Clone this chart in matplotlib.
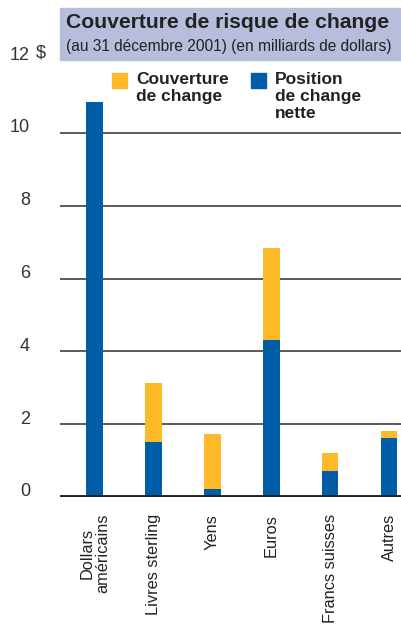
import matplotlib
matplotlib.use("Agg")
import matplotlib.pyplot as plt
from matplotlib.patches import Rectangle
from matplotlib.transforms import ScaledTranslation

categories = ["Dollars\naméricains", "Livres sterling", "Yens", "Euros",
              "Francs suisses", "Autres"]
position_nette = [10.85, 1.51, 0.22, 4.31, 0.71, 1.62]
couverture = [0.0, 1.62, 1.51, 2.53, 0.50, 0.19]
yticks = [0, 2, 4, 6, 8, 10, 12]

YELLOW = "#fdb927"
BLUE = "#005ea8"
GREY = "#333333"

plt.rcParams["font.family"] = ["Liberation Sans", "DejaVu Sans"]

fig = plt.figure(figsize=(4.02, 6.27), dpi=100)
ax = fig.add_axes([60 / 402, 1 - 497 / 627, 342 / 402, 437 / 627])

x = list(range(len(categories)))
ax.bar(x, position_nette, width=0.28, color=BLUE, zorder=3)
ax.bar(x, couverture, width=0.28, bottom=position_nette, color=YELLOW, zorder=3)

ax.set_xlim(-0.59, 5.22)
ax.set_ylim(0, 12)
for s in ax.spines.values():
    s.set_visible(False)
ax.set_yticks(yticks)
ax.set_yticklabels([str(v) for v in yticks], fontsize=13, color=GREY)
ax.tick_params(axis="y", length=0, pad=21.6)
for lab in ax.get_yticklabels():
    lab.set_horizontalalignment("right")
    lab.set_transform(lab.get_transform() + ScaledTranslation(0.0, 0.07, fig.dpi_scale_trans))
ax.text(-0.59 - 24 / 59, 12, "$", fontsize=13, color=GREY, ha="left", va="center",
        transform=ax.transData + ScaledTranslation(0.0, 0.07, fig.dpi_scale_trans))
for v in yticks[1:]:
    ax.axhline(v, color="#4d4d4d", lw=1.3, zorder=1)
ax.axhline(0, color="#222222", lw=2.8, zorder=4)

ax.set_xticks(x)
ax.set_xticklabels(categories, rotation=90, fontsize=11.8, color="#222222",
                   linespacing=1.1, va="top", ha="center")
ax.tick_params(axis="x", length=0, pad=12)

# title box
fig.patches.append(Rectangle((60 / 402, 1 - 60 / 627), 342 / 402, 52 / 627,
                             transform=fig.transFigure, color="#b7bedb", zorder=0))
fig.text(66 / 402, 1 - 23 / 627, "Couverture de risque de change", fontsize=15.2,
         fontweight="bold", color="#222222", va="center", ha="left")
fig.text(66 / 402, 1 - 47 / 627, "(au 31 décembre 2001) (en milliards de dollars)",
         fontsize=11.2, color="#222222", va="center", ha="left")

# legend
fig.patches.append(Rectangle((112 / 402, 1 - 88 / 627), 15 / 402, 15 / 627,
                             transform=fig.transFigure, color=YELLOW))
fig.text(136 / 402, 1 - 72 / 627, "Couverture\nde change", fontsize=12.5,
         fontweight="bold", color="#222222", va="top", ha="left", linespacing=1.18)
fig.patches.append(Rectangle((251 / 402, 1 - 88 / 627), 15 / 402, 15 / 627,
                             transform=fig.transFigure, color=BLUE))
fig.text(275 / 402, 1 - 72 / 627, "Position\nde change\nnette", fontsize=12.5,
         fontweight="bold", color="#222222", va="top", ha="left", linespacing=1.18)

fig.savefig("out.png", dpi=100)
